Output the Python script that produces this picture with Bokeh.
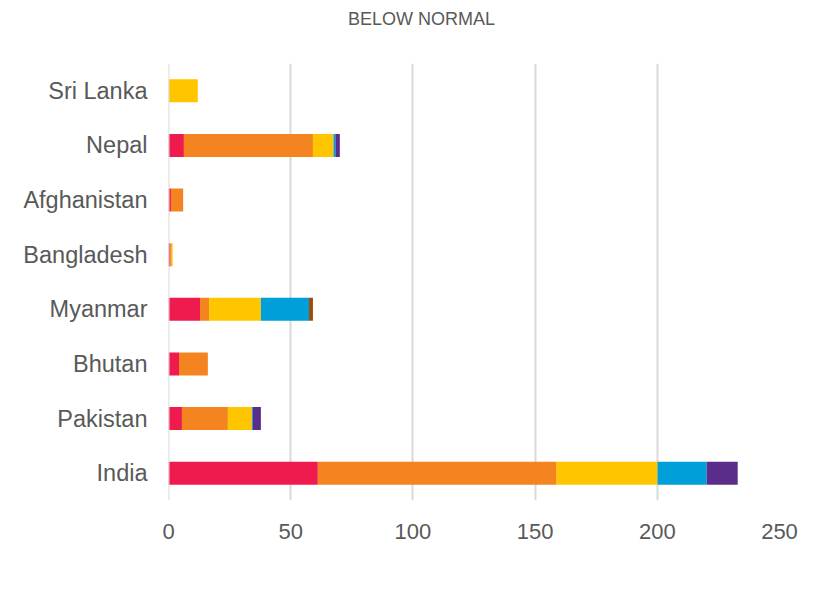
from bokeh.plotting import figure
from bokeh.layouts import column
from bokeh.models import (ColumnDataSource, FactorRange, Range1d, Legend, LegendItem,
                          FixedTicker, Span, Label)
from bokeh.embed import file_html
from bokeh.resources import INLINE

countries = ["India", "Pakistan", "Bhutan", "Myanmar", "Bangladesh", "Afghanistan", "Nepal", "Sri Lanka"]
bins = ["<35", "35-40", "40-50", "50-60", "60-70", "70-80", "80-90", "90-100"]
lt35 =    [61.1, 5.5, 4.3, 12.9, 0.9, 1.0, 6.3, 0.0]
b35_40 =  [97.7, 18.8, 11.8, 3.7, 0.0, 5.0, 52.8, 0.0]
b40_50 =  [41.3, 9.8, 0.0, 21.2, 0.8, 0.0, 8.4, 12.0]
b50_60 =  [20.1, 0.4, 0.0, 19.7, 0.0, 0.0, 0.8, 0.0]
b60_70 =  [12.7, 3.3, 0.0, 0.0, 0.0, 0.0, 1.8, 0.0]
b70_80 =  [0.0, 0.0, 0.0, 0.0, 0.0, 0.0, 0.0, 0.0]
b80_90 =  [0.0, 0.0, 0.0, 0.0, 0.0, 0.0, 0.0, 0.0]
b90_100 = [0.0, 0.0, 0.0, 1.6, 0.0, 0.0, 0.0, 0.0]
x_ticks = [0, 50, 100, 150, 200, 250]
title_text = "BELOW NORMAL"

colors = ["#EF1A4D", "#F4841F", "#FFC600", "#009FDA", "#5A2D8A", "#71BE44", "#93072A", "#A04C07"]
FONT = "Liberation Sans"
TXT = "#595959"

data = dict(country=countries)
for name, vals in zip(bins, [lt35, b35_40, b40_50, b50_60, b60_70, b70_80, b80_90, b90_100]):
    data[name] = vals
source = ColumnDataSource(data)


def bare(fig):
    fig.outline_line_color = None
    fig.background_fill_color = "white"
    fig.border_fill_color = "white"
    fig.xgrid.visible = False
    fig.ygrid.visible = False


# ---- title strip (frame is aligned with the main chart's frame by the column) ----
pt = figure(width=818, height=36, x_range=Range1d(0, 1), y_range=Range1d(0, 1),
            x_axis_type=None, y_axis_type=None, output_backend="svg", toolbar_location=None,
            min_border=0)
bare(pt)
pt.add_layout(Label(x=253, y=18, x_units="screen", y_units="screen", text=title_text,
                    text_font=FONT, text_font_size="18px", text_color=TXT,
                    text_align="center", text_baseline="middle"))

# ---- main chart ----
p = figure(width=818, height=519, y_range=FactorRange(*countries, range_padding=0),
           x_range=Range1d(0, 250), output_backend="svg", toolbar_location=None,
           min_border_left=168, min_border_right=39, min_border_top=27, min_border_bottom=55)
p.outline_line_color = None
p.background_fill_color = "white"
p.border_fill_color = "white"

p.add_layout(Span(location=x_ticks[0], dimension="height", line_color="#D9D9D9", line_width=2))

rs = p.hbar_stack(bins, y="country", height=0.42, color=colors, line_color=None, source=source)

p.xaxis.ticker = FixedTicker(ticks=x_ticks)
for ax in (p.xaxis[0], p.yaxis[0]):
    ax.axis_line_color = None
    ax.major_tick_line_color = None
    ax.minor_tick_line_color = None
    ax.major_tick_out = 0
    ax.major_tick_in = 0
    ax.major_label_text_font = FONT
    ax.major_label_text_font_size = "22px"
    ax.major_label_text_color = TXT
p.yaxis.major_label_text_font_size = "23.5px"
p.xaxis.major_label_standoff = 23
p.yaxis.major_label_standoff = 21
p.ygrid.grid_line_color = None
p.xgrid.grid_line_color = "#D9D9D9"
p.xgrid.grid_line_width = 2

# ---- legend strip: same stacked bars, kept out of view, only used for the legend ----
pl = figure(width=818, height=40, x_range=Range1d(1000, 1001),
            y_range=FactorRange(*countries, range_padding=0),
            x_axis_type=None, y_axis_type=None, output_backend="svg", toolbar_location=None,
            min_border=0)
bare(pl)
proxies = pl.hbar_stack(bins, y="country", height=0.42, color=colors, line_color=None, source=source)
legend = Legend(items=[LegendItem(label=b, renderers=[r]) for b, r in zip(bins, proxies)],
                orientation="horizontal", location=(-106, 0),
                border_line_color=None, background_fill_alpha=0,
                label_text_font=FONT, label_text_font_size="21px", label_text_color=TXT,
                glyph_width=12, glyph_height=13, label_standoff=7, spacing=20,
                padding=0, margin=0)
pl.add_layout(legend, "below")

layout = column(pt, p, pl, spacing=0)
open("out.html", "w").write(file_html(layout, INLINE))
